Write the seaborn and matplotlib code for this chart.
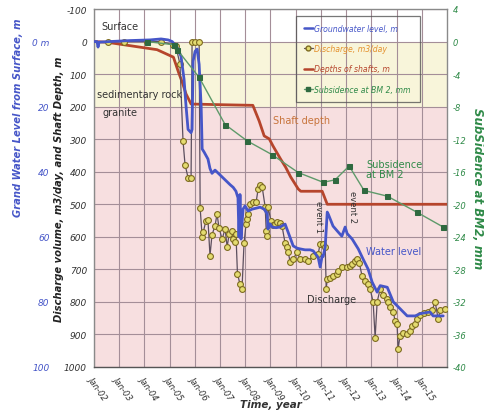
import numpy as np
import pandas as pd
import matplotlib
matplotlib.use("Agg")
import matplotlib.pyplot as plt
from matplotlib.lines import Line2D
import seaborn as sns

sns.set_theme(style="white")
plt.rcParams["font.family"] = ["DejaVu Sans"]

# ---- data (time in decimal years) ----
shaft_year = [2002.0, 2002.5, 2004.5, 2005.15, 2005.35, 2005.5, 2005.65, 2005.85,
              2007.0, 2008.3, 2008.55, 2008.75, 2008.95, 2009.1, 2009.4, 2009.6,
              2009.8, 2010.1, 2010.2, 2011.05, 2011.25, 2016.0]
shaft_depth = [0, 2, 25, 48, 94, 125, 161, 192,
               194, 196, 244, 290, 299, 321, 361, 386,
               416, 453, 460, 460, 500, 500]

subs_year = [2004.10, 2005.17, 2005.30, 2006.17, 2007.20, 2008.07, 2009.06, 2010.10,
             2011.09, 2011.56, 2012.12, 2012.71, 2013.63, 2014.82, 2015.85]
subs_mm = [0.0, -0.4, -1.0, -4.4, -10.2, -12.2, -13.9, -16.1,
           -17.3, -17.0, -15.3, -18.3, -19.0, -21.0, -22.8]

dis_year = [2002.56, 2003.19, 2004.10, 2004.66, 2005.13, 2005.25, 2005.41, 2005.53,
            2005.61, 2005.73, 2005.85, 2005.89, 2006.00, 2006.17, 2006.21, 2006.29,
            2006.33, 2006.44, 2006.52, 2006.60, 2006.68, 2006.80, 2006.88, 2006.96,
            2007.08, 2007.20, 2007.28, 2007.36, 2007.48, 2007.52, 2007.60, 2007.63,
            2007.69, 2007.79, 2007.87, 2007.95, 2008.03, 2008.07, 2008.11, 2008.19,
            2008.31, 2008.43, 2008.51, 2008.59, 2008.67, 2008.79, 2008.83, 2008.87,
            2008.90, 2009.02, 2009.10, 2009.18, 2009.26, 2009.38, 2009.46, 2009.58,
            2009.66, 2009.70, 2009.78, 2009.90, 2010.06, 2010.17, 2010.37, 2010.49,
            2010.69, 2010.89, 2010.97, 2011.09, 2011.17, 2011.21, 2011.25, 2011.37,
            2011.48, 2011.64, 2011.68, 2011.83, 2012.04, 2012.16, 2012.24, 2012.36,
            2012.44, 2012.52, 2012.63, 2012.75, 2012.87, 2012.95, 2013.07, 2013.15,
            2013.23, 2013.35, 2013.47, 2013.63, 2013.67, 2013.75, 2013.87, 2013.94,
            2014.02, 2014.06, 2014.14, 2014.26, 2014.42, 2014.54, 2014.62, 2014.74,
            2014.82, 2014.94, 2015.10, 2015.25, 2015.41, 2015.53, 2015.65, 2015.73,
            2015.93]
dis_m3 = [0, 0, 0, 0, 10, 15, 70, 305,
          378, 418, 418, 0, 0, 0, 512, 600,
          586, 551, 549, 658, 594, 566, 530, 573,
          607, 576, 631, 592, 582, 607, 617, 592,
          714, 745, 760, 620, 561, 545, 530, 499,
          493, 493, 453, 440, 447, 509, 582, 597,
          508, 551, 564, 560, 555, 557, 568, 620,
          631, 647, 677, 668, 647, 668, 668, 675,
          659, 652, 622, 622, 630, 760, 730, 728,
          720, 715, 705, 693, 693, 690, 684, 674,
          668, 680, 720, 736, 745, 760, 800, 910,
          800, 760, 780, 791, 800, 815, 831, 858,
          868, 944, 904, 895, 898, 890, 875, 868,
          853, 840, 835, 831, 825, 800, 853, 826,
          822]

gw_year = [2002.00, 2002.12, 2002.16, 2002.20, 2002.63, 2003.43, 2004.22, 2004.66,
           2004.94, 2005.10, 2005.29, 2005.45, 2005.57, 2005.65, 2005.73, 2005.85,
           2005.89, 2005.93, 2006.01, 2006.09, 2006.17, 2006.25, 2006.29, 2006.37,
           2006.52, 2006.60, 2006.68, 2006.80, 2007.00, 2007.20, 2007.40, 2007.52,
           2007.63, 2007.71, 2007.75, 2007.79, 2007.83, 2007.91, 2007.99, 2008.11,
           2008.27, 2008.43, 2008.59, 2008.75, 2008.87, 2008.90, 2008.98, 2009.06,
           2009.22, 2009.38, 2009.58, 2009.70, 2009.90, 2010.06, 2010.17, 2010.37,
           2010.57, 2010.69, 2010.89, 2010.97, 2011.05, 2011.09, 2011.17, 2011.25,
           2011.29, 2011.48, 2011.68, 2011.83, 2011.96, 2012.04, 2012.24, 2012.48,
           2012.67, 2012.87, 2013.03, 2013.23, 2013.35, 2013.63, 2013.87, 2014.14,
           2014.42, 2014.74, 2014.94, 2015.33, 2015.45, 2015.85]
gw_m = [0.0, 0.0, 1.7, 0.2, 0.0, -0.3, -0.5, -0.8,
        -0.5, 0.0, 1.7, 4.5, 11.5, 19.8, 27.0, 28.0,
        27.0, 6.0, 3.0, 2.3, 7.0, 20.0, 33.0, 34.0,
        36.1, 39.0, 40.5, 39.5, 41.0, 42.5, 44.0, 44.8,
        46.0, 48.0, 60.0, 47.0, 60.7, 51.5, 50.5, 52.1,
        51.5, 51.2, 50.9, 51.5, 53.0, 57.6, 56.0, 57.0,
        57.2, 57.0, 56.1, 58.6, 62.8, 63.5, 63.7, 64.0,
        64.0, 64.3, 66.3, 69.3, 65.8, 66.0, 63.1, 52.4,
        53.0, 56.7, 58.5, 59.8, 57.0, 59.0, 60.7, 63.7,
        66.8, 69.9, 73.9, 77.0, 75.0, 75.5, 80.0, 82.1,
        84.3, 84.3, 83.6, 83.1, 84.3, 84.3]

year_ticks = list(range(2002, 2016))
year_labels = ["Jan-%02d" % (y - 2000) for y in year_ticks]

# ---- colours ----
C_GW = "#4656c8"
C_DIS_LINE = "#5c4f5e"
C_DIS_FACE = "#e4dc70"
C_DIS_EDGE = "#7d6b20"
C_DIS_TEXT = "#e4902c"
C_SHAFT = "#b6452c"
C_SUB_LINE = "#5e9a6a"
C_SUB_MARK = "#2f6a40"
C_SUB_TEXT = "#2f8a48"

fig = plt.figure(figsize=(4.84, 4.14), dpi=100)
ax = fig.add_axes([94 / 484, 1 - 368 / 414, (447 - 94) / 484, (368 - 10) / 414])

# rock layers
ax.axhspan(0, 200, color="#f8f5da", zorder=0, lw=0)
ax.axhspan(200, 1000, color="#f7dfe0", zorder=0, lw=0)

ax.set_xlim(2002, 2016)
ax.set_ylim(1000, -100)
ax.set_xticks(year_ticks)
ax.set_xticklabels(year_labels, rotation=-55, ha="left", va="top",
                   rotation_mode="anchor", fontsize=6, style="italic", color="#333333")
ax.set_yticks(np.arange(-100, 1001, 100))
ax.set_yticklabels([str(v) for v in range(-100, 1001, 100)], fontsize=6.5,
                   style="italic", color="#333333")
ax.tick_params(axis="both", length=0, pad=5)
ax.grid(True, color="#a48e98", lw=0.8, zorder=1)
ax.set_axisbelow(True)
for s in ax.spines.values():
    s.set_color("#8a8a8a")
    s.set_linewidth(1.0)
ax.spines["bottom"].set_color("#555555")

sns.lineplot(x=shaft_year, y=shaft_depth, ax=ax, color=C_SHAFT, lw=2.0,
             sort=False, estimator=None, zorder=3)
sns.lineplot(x=dis_year, y=dis_m3, ax=ax, color=C_DIS_LINE, lw=0.9,
             sort=False, estimator=None, marker="o", markersize=4.2,
             markerfacecolor=C_DIS_FACE, markeredgecolor=C_DIS_EDGE,
             markeredgewidth=0.8, zorder=4)

ax.set_xlabel("Time, year", fontsize=7.5, fontweight="bold", style="italic",
              color="#333333")
ax.xaxis.set_label_coords(0.5, -0.09)
ax.set_ylabel("Discharge volume, m3/day, and Shaft Depth, m", fontsize=7.2,
              fontweight="bold", style="italic", color="#222222")
ax.yaxis.set_label_coords(-0.085, 0.5)

# groundwater level axis (same scale, metres = m3 axis / 10)
ax_gw = ax.twinx()
ax_gw.set_ylim(100, -10)
ax_gw.yaxis.set_ticks_position("left")
ax_gw.yaxis.set_label_position("left")
ax_gw.spines["left"].set_position(("outward", 27))
for s in ax_gw.spines.values():
    s.set_visible(False)
ax_gw.set_yticks([0, 20, 40, 60, 80, 100])
ax_gw.set_yticklabels(["0 m", "20", "40", "60", "80", "100"], fontsize=6.5,
                      style="italic", color=C_GW)
ax_gw.tick_params(axis="y", length=0, pad=5)
sns.lineplot(x=gw_year, y=gw_m, ax=ax_gw, color=C_GW, lw=2.0,
             sort=False, estimator=None, zorder=3)
ax_gw.set_ylabel("Grand Water Level from Surface, m", fontsize=7.2,
                 fontweight="bold", style="italic", color=C_GW)
ax_gw.yaxis.set_label_coords(-0.2, 0.7)
ax_gw.set_xlabel("")

# subsidence axis
ax_sub = ax.twinx()
ax_sub.set_ylim(-40, 4)
ax_sub.set_yticks(np.arange(-40, 5, 4))
ax_sub.set_yticklabels([str(v) for v in range(-40, 5, 4)], fontsize=6,
                       style="italic", color=C_SUB_TEXT)
ax_sub.tick_params(axis="y", length=0, pad=4)
for s in ax_sub.spines.values():
    s.set_visible(False)
sns.lineplot(x=subs_year, y=subs_mm, ax=ax_sub, color=C_SUB_LINE, lw=1.0,
             sort=False, estimator=None, marker="s", markersize=3.6,
             markerfacecolor=C_SUB_MARK, markeredgecolor=C_SUB_MARK, zorder=3)
ax_sub.set_ylabel("SubSidence at BM2, mm", fontsize=8.5, fontweight="bold",
                  style="italic", color=C_SUB_TEXT, rotation=270,
                  va="center", ha="center")
ax_sub.yaxis.set_label_coords(1.087, 0.5)

# annotations
ann = dict(fontsize=7, zorder=6)
ax.text(2002.3, -38, "Surface", color="#333333", **ann)
ax.text(2002.1, 161, "sedimentary rock", color="#333333", va="center", **ann)
ax.text(2002.35, 217, "granite", color="#333333", va="center", **ann)
ax.text(2009.1, 241, "Shaft depth", color="#c8743c", va="center", **ann)
ax.text(2012.8, 392, "Subsidence\nat BM 2", color=C_SUB_TEXT, va="center",
        linespacing=0.95, **ann)
ax.text(2012.8, 644, "Water level", color=C_GW, va="center", **ann)
ax.text(2010.45, 791, "Discharge", color="#333333", va="center", **ann)
ax.text(2010.9, 535, "event 1", color="#333333", rotation=270, ha="center",
        va="center", fontsize=6)
ax.text(2012.25, 505, "event 2", color="#333333", rotation=270, ha="center",
        va="center", fontsize=6)

# legend
handles = [
    Line2D([], [], color=C_GW, lw=1.8),
    Line2D([], [], color=C_DIS_LINE, lw=0.9, marker="o", markersize=3.5,
           markerfacecolor=C_DIS_FACE, markeredgecolor=C_DIS_EDGE),
    Line2D([], [], color=C_SHAFT, lw=1.8),
    Line2D([], [], color=C_SUB_LINE, lw=1.0, marker="s", markersize=3,
           markerfacecolor=C_SUB_MARK, markeredgecolor=C_SUB_MARK),
]
labels = ["Groundwater level, m", "Discharge, m3/day", "Depths of shafts, m",
          "Subsidence at BM 2, mm"]
leg = ax_sub.legend(handles, labels, loc="upper left",
                    bbox_to_anchor=(0.572, 0.754, 0.352, 0.226), mode="expand",
                    fontsize=5.6, frameon=True, fancybox=False,
                    handlelength=1.2, handletextpad=0.1, borderpad=1.0,
                    labelspacing=1.45, borderaxespad=0)
leg.get_frame().set_facecolor("none")
leg.get_frame().set_edgecolor("#555555")
leg.get_frame().set_linewidth(0.9)
for t, c in zip(leg.get_texts(), [C_GW, C_DIS_TEXT, C_SHAFT, C_SUB_TEXT]):
    t.set_color(c)
    t.set_style("italic")

fig.savefig("out.png", dpi=100)
